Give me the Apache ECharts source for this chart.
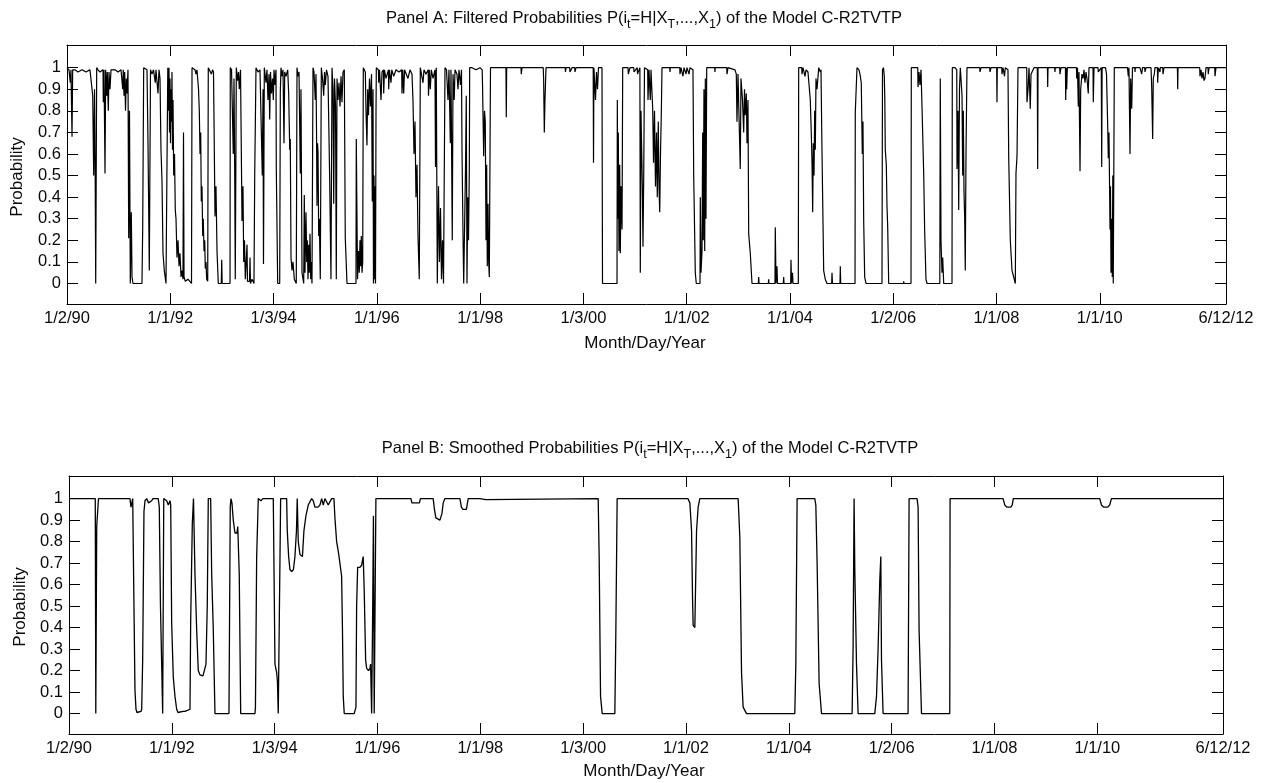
<!DOCTYPE html>
<html>
<head>
<meta charset="utf-8">
<script src="https://cdn.jsdelivr.net/npm/echarts@6/dist/echarts.min.js"></script>
<style>html,body{margin:0;padding:0;background:#fff}#main{width:1266px;height:783px}</style>
</head>
<body>
<div id="main"></div>
<script>
// ---- tick positions (decimal years) and their labels ----
const xTickYears = [1990, 1992, 1994, 1996, 1998, 2000, 2002, 2004, 2006, 2008, 2010, 2012.444];
const xTickLabels = ['1/2/90','1/1/92','1/3/94','1/1/96','1/1/98','1/3/00','1/1/02','1/1/04','1/2/06','1/1/08','1/1/10','6/12/12'];
const yTicks = [0, 0.1, 0.2, 0.3, 0.4, 0.5, 0.6, 0.7, 0.8, 0.9, 1];

// ---- Panel A: filtered probabilities [decimal year, probability] ----
const filtered = [
[1990.000,1],[1990.039,.99],[1990.064,.93],[1990.077,.99],[1990.097,.68],[1990.110,.99],[1990.155,.99],[1990.213,.98],[1990.290,.99],[1990.368,.98],[1990.445,.99],[1990.498,.87],[1990.517,.5],[1990.533,.9],[1990.546,.5],[1990.556,0],[1990.575,1],[1990.600,.99],[1990.639,.98],[1990.698,.99],[1990.703,.84],[1990.717,.99],[1990.736,.51],[1990.749,.99],[1990.769,.87],[1990.780,.98],[1990.800,.8],[1990.813,.98],[1990.833,.9],[1990.852,.99],[1990.930,.99],[1990.988,.98],
[1991.046,.99],[1991.079,.9],[1991.090,.99],[1991.104,.87],[1991.117,.98],[1991.133,.8],[1991.148,.95],[1991.162,.88],[1991.181,.99],[1991.195,.21],[1991.210,.8],[1991.226,0],[1991.245,.33],[1991.259,.03],[1991.278,0],[1991.452,0],[1991.466,.26],[1991.485,1],[1991.549,.99],[1991.569,.64],[1991.594,.06],[1991.617,.99],[1991.646,.97],[1991.675,.99],[1991.705,.99],[1991.710,.93],[1991.723,.99],[1991.757,.99],[1991.762,.88],[1991.782,.99],[1991.801,.95],[1991.820,.62],[1991.840,.47],[1991.859,.14],[1991.884,.06],[1991.917,0],[1991.942,0],[1991.952,1],[1991.966,.8],[1991.975,1],[1991.985,.7],[1991.995,.95],
[1992.004,.65],[1992.014,.9],[1992.024,.75],[1992.033,.98],[1992.043,.62],[1992.053,.85],[1992.066,.5],[1992.082,.6],[1992.097,.34],[1992.111,.3],[1992.130,.12],[1992.150,.2],[1992.169,.08],[1992.188,.14],[1992.208,.03],[1992.227,.06],[1992.246,.02],[1992.256,.7],[1992.266,.03],[1992.291,.01],[1992.343,.02],[1992.411,0],[1992.421,1],[1992.479,.99],[1992.498,.97],[1992.517,.99],[1992.547,.9],[1992.562,.8],[1992.576,.6],[1992.589,.7],[1992.601,.38],[1992.614,.45],[1992.628,.22],[1992.639,.3],[1992.653,.15],[1992.667,.2],[1992.678,.07],[1992.692,.1],[1992.705,.02],[1992.725,.01],[1992.736,1],[1992.798,.97],[1992.818,.99],[1992.837,.98],[1992.851,.66],[1992.866,.31],[1992.885,.45],[1992.905,.15],[1992.930,0],[1992.988,0],[1992.996,.11],
[1993.005,0],[1993.157,0],[1993.162,1],[1993.186,.99],[1993.220,.6],[1993.234,.95],[1993.248,.5],[1993.259,.02],[1993.279,1],[1993.302,.94],[1993.321,.98],[1993.337,.9],[1993.360,.99],[1993.389,.29],[1993.408,.45],[1993.422,.1],[1993.437,.2],[1993.453,.02],[1993.466,.08],[1993.486,.18],[1993.495,.01],[1993.534,.01],[1993.544,.12],[1993.553,0],[1993.583,.02],[1993.621,0],[1993.635,.5],[1993.660,1],[1993.699,.98],[1993.737,.99],[1993.770,.99],[1993.782,.5],[1993.796,.9],[1993.805,.09],[1993.821,1],[1993.854,.93],[1993.873,.99],[1993.892,.85],[1993.912,.97],[1993.925,.76],[1993.941,.98],[1993.960,.88],[1993.980,.95],[1993.995,.85],
[1994.009,.99],[1994.028,.92],[1994.047,.99],[1994.053,.53],[1994.080,0],[1994.119,0],[1994.131,.89],[1994.144,1],[1994.163,.96],[1994.183,.99],[1994.202,.65],[1994.216,.98],[1994.241,.96],[1994.274,.99],[1994.293,.88],[1994.313,.62],[1994.324,.67],[1994.338,.12],[1994.357,.06],[1994.376,.1],[1994.402,.02],[1994.440,0],[1994.454,1],[1994.473,.96],[1994.493,.98],[1994.518,.51],[1994.531,.9],[1994.551,.05],[1994.584,0],[1994.595,.41],[1994.609,.05],[1994.628,.33],[1994.642,.1],[1994.653,.2],[1994.667,.02],[1994.681,.18],[1994.692,.05],[1994.706,.23],[1994.719,.02],[1994.731,.1],[1994.744,0],[1994.764,1],[1994.783,.98],[1994.808,.85],[1994.822,.97],[1994.832,.7],[1994.841,.36],[1994.851,.65],[1994.861,.61],[1994.874,.22],[1994.886,.3],[1994.905,.02],[1994.925,1],[1994.948,.95],[1994.971,.87],[1994.987,.98],
[1995.002,.92],[1995.025,.99],[1995.054,.96],[1995.087,.48],[1995.112,.02],[1995.132,1],[1995.151,.9],[1995.165,.37],[1995.180,.95],[1995.200,.82],[1995.215,.02],[1995.229,.95],[1995.248,.85],[1995.267,.93],[1995.287,.82],[1995.306,.96],[1995.325,.84],[1995.345,.98],[1995.370,.99],[1995.389,.21],[1995.422,0],[1995.596,0],[1995.602,.67],[1995.626,.02],[1995.645,.15],[1995.660,.05],[1995.674,.2],[1995.687,.08],[1995.699,.22],[1995.713,.05],[1995.726,.1],[1995.738,1],[1995.777,.98],[1995.790,.8],[1995.809,.64],[1995.823,.9],[1995.838,.78],[1995.858,.95],[1995.877,.82],[1995.897,.97],[1995.912,.38],[1995.926,.9],[1995.935,0],[1995.945,.5],[1995.955,.02],[1995.964,.45],[1995.974,0],[1995.984,.8],[1995.990,1],
[1996.031,.99],[1996.036,.93],[1996.052,.99],[1996.076,.99],[1996.081,.85],[1996.100,.98],[1996.128,.99],[1996.133,.88],[1996.148,.99],[1996.177,.95],[1996.225,.99],[1996.230,.9],[1996.245,.99],[1996.274,.93],[1996.290,.99],[1996.327,.96],[1996.371,.99],[1996.429,.98],[1996.482,.99],[1996.487,.88],[1996.501,.99],[1996.515,.99],[1996.520,.88],[1996.536,.99],[1996.603,.95],[1996.642,.99],[1996.681,.97],[1996.700,.85],[1996.720,.6],[1996.739,.75],[1996.758,.4],[1996.778,.55],[1996.797,.22],[1996.822,.02],[1996.842,1],[1996.894,.93],[1996.913,.99],[1996.952,.97],
[1996.995,.99],[1997.000,.87],[1997.016,.99],[1997.035,.9],[1997.055,.99],[1997.088,.95],[1997.126,.99],[1997.136,.54],[1997.151,1],[1997.171,0],[1997.194,.45],[1997.213,.1],[1997.233,.35],[1997.252,.02],[1997.272,.2],[1997.291,0],[1997.310,0],[1997.320,1],[1997.349,.99],[1997.378,.85],[1997.397,.99],[1997.423,.65],[1997.436,.99],[1997.461,.2],[1997.475,.97],[1997.498,.85],[1997.514,.99],[1997.552,.97],[1997.572,.9],[1997.591,.99],[1997.620,.92],[1997.639,.99],[1997.649,.62],[1997.669,.22],[1997.682,0],[1997.707,0],[1997.717,.53],[1997.732,.87],[1997.746,0],[1997.760,.4],[1997.775,.2],[1997.791,.53],[1997.798,1],[1997.843,1],[1997.920,.99],[1997.998,1],
[1998.040,.99],[1998.046,.93],[1998.069,.59],[1998.085,.8],[1998.100,.75],[1998.114,.2],[1998.127,.55],[1998.139,.08],[1998.153,.37],[1998.166,.1],[1998.178,.03],[1998.201,1],[1998.288,1],[1998.385,1],[1998.500,1],[1998.507,.77],[1998.514,1],[1998.675,1],[1998.792,1],[1998.797,.97],[1998.811,1],
[1999.063,1],[1999.222,1],[1999.230,.95],[1999.243,.70],[1999.256,.85],[1999.276,1],[1999.450,1],[1999.648,1],[1999.653,.98],[1999.663,1],[1999.735,1],[1999.740,.98],[1999.779,1],[1999.832,1],[1999.837,.98],[1999.857,1],
[2000.031,1],[2000.190,1],[2000.196,.56],[2000.204,1],[2000.234,.85],[2000.254,.98],[2000.273,.9],[2000.292,1],[2000.360,1],[2000.370,0],[2000.651,0],[2000.657,.85],[2000.664,.3],[2000.676,.7],[2000.689,.15],[2000.703,.55],[2000.715,.14],[2000.728,.45],[2000.748,.25],[2000.761,1],[2000.825,1],[2000.865,1],[2000.870,.97],[2000.902,1],[2000.975,1],[2000.980,.98],
[2001.043,1],[2001.048,.97],[2001.094,1],[2001.102,.05],[2001.115,.8],[2001.141,.45],[2001.154,.17],[2001.168,.5],[2001.183,1],[2001.245,.99],[2001.251,.85],[2001.270,.99],[2001.290,.99],[2001.296,.85],[2001.309,.99],[2001.336,.99],[2001.342,.81],[2001.358,.56],[2001.377,.8],[2001.396,.45],[2001.416,.7],[2001.431,.4],[2001.450,.75],[2001.464,.45],[2001.478,.33],[2001.493,.6],[2001.509,.79],[2001.522,1],[2001.600,1],[2001.672,1],[2001.677,.98],[2001.682,1],[2001.774,1],[2001.866,1],[2001.871,.97],[2001.890,1],[2001.924,1],[2001.929,.96],[2001.948,1],[2001.982,1],[2001.987,.97],
[2002.006,1],[2002.040,1],[2002.045,.97],[2002.064,1],[2002.122,.99],[2002.136,.5],[2002.167,.05],[2002.186,0],[2002.258,0],[2002.264,.4],[2002.277,.05],[2002.297,.15],[2002.310,.7],[2002.322,.2],[2002.335,.9],[2002.349,.15],[2002.361,.95],[2002.374,.3],[2002.388,1],[2002.452,1],[2002.543,1],[2002.548,.98],[2002.553,1],[2002.645,1],[2002.776,1],[2002.781,.97],[2002.800,1],[2002.936,.99],[2002.961,.97],[2002.974,.75],[2002.994,.97],
[2003.038,.53],[2003.052,.95],[2003.081,.85],[2003.104,.7],[2003.120,.9],[2003.135,.78],[2003.155,.88],[2003.168,.65],[2003.187,.85],[2003.201,.23],[2003.232,.14],[2003.265,0],[2003.387,0],[2003.395,.03],[2003.401,0],[2003.581,0],[2003.588,.02],[2003.594,0],[2003.710,0],[2003.716,.26],[2003.730,0],[2003.749,.08],[2003.759,0],[2003.871,0],[2003.879,.03],[2003.885,0],
[2004.014,0],[2004.020,.11],[2004.030,0],[2004.049,.05],[2004.059,0],[2004.162,0],[2004.169,1],[2004.228,1],[2004.233,.97],[2004.253,1],[2004.286,1],[2004.291,.96],[2004.311,.99],[2004.349,.98],[2004.394,.85],[2004.413,.7],[2004.427,.56],[2004.440,.33],[2004.452,.65],[2004.466,.5],[2004.479,.8],[2004.491,.62],[2004.504,.95],[2004.524,.9],[2004.557,1],[2004.588,.98],[2004.601,.99],[2004.620,.62],[2004.653,.06],[2004.684,.02],[2004.717,0],[2004.808,0],[2004.814,.05],[2004.824,0],[2004.969,0],[2004.975,.08],[2004.983,0],
[2005.260,0],[2005.265,.79],[2005.298,1],[2005.337,.99],[2005.356,.97],[2005.381,.93],[2005.401,.6],[2005.414,.75],[2005.428,.29],[2005.447,.03],[2005.473,0],[2005.782,0],[2005.792,.99],[2005.811,1],[2005.827,.96],[2005.837,.85],[2005.846,.62],[2005.866,.55],[2005.879,.36],[2005.893,.26],[2005.912,0],
[2006.199,0],[2006.203,.01],[2006.208,0],[2006.344,0],[2006.350,1],[2006.421,1],[2006.475,1],[2006.480,.91],[2006.499,.98],[2006.518,.92],[2006.538,.99],[2006.557,.82],[2006.590,.51],[2006.609,.24],[2006.634,.02],[2006.654,0],[2006.902,0],[2006.911,.95],[2006.925,.2],[2006.944,.05],[2006.958,.12],[2006.977,0],
[2007.138,0],[2007.144,1],[2007.196,1],[2007.230,.99],[2007.235,.53],[2007.254,.8],[2007.268,.34],[2007.283,.9],[2007.299,1],[2007.332,.87],[2007.345,.5],[2007.357,.8],[2007.370,.43],[2007.384,.3],[2007.395,.06],[2007.409,.6],[2007.428,1],[2007.487,1],[2007.583,1],[2007.675,1],[2007.680,.98],[2007.700,1],[2007.869,1],[2007.874,.98],[2007.893,1],
[2008.003,1],[2008.009,.84],[2008.015,1],[2008.101,1],[2008.106,.97],[2008.126,1],[2008.150,1],[2008.155,.96],[2008.170,1],[2008.222,.99],[2008.236,.59],[2008.267,.2],[2008.300,.06],[2008.333,.03],[2008.364,0],[2008.377,.51],[2008.397,.59],[2008.416,1],[2008.493,1],[2008.585,1],[2008.590,.84],[2008.610,.9],[2008.629,1],[2008.649,1],[2008.654,.81],[2008.668,.97],[2008.726,1],[2008.790,1],[2008.797,.53],[2008.804,1],[2008.939,1],[2008.986,1],[2008.991,.91],
[2008.997,1],[2009.127,1],[2009.132,.98],[2009.137,1],[2009.224,1],[2009.229,.97],[2009.249,1],[2009.335,1],[2009.340,.85],[2009.351,1],[2009.359,.9],[2009.371,1],[2009.462,1],[2009.548,1],[2009.553,.95],[2009.568,1],[2009.584,.82],[2009.597,.98],[2009.617,.52],[2009.630,.9],[2009.655,.97],[2009.675,.95],[2009.694,.99],[2009.713,.93],[2009.733,.98],[2009.752,.95],[2009.777,.88],[2009.791,1],[2009.869,1],[2009.874,.84],[2009.888,1],[2009.966,1],[2009.971,.98],
[2010.029,1],[2010.037,.54],[2010.045,1],[2010.110,1],[2010.130,.97],[2010.153,.73],[2010.165,.58],[2010.178,.7],[2010.198,.25],[2010.207,.45],[2010.217,.05],[2010.230,.3],[2010.242,.03],[2010.252,.5],[2010.261,0],[2010.281,1],[2010.391,1],[2010.536,1],[2010.552,.96],[2010.565,1],[2010.580,1],[2010.585,.6],[2010.598,.95],[2010.618,.81],[2010.633,1],[2010.677,1],[2010.682,.98],[2010.687,1],[2010.778,1],[2010.806,1],[2010.811,.97],[2010.827,1],[2010.870,1],[2010.875,.98],[2010.895,1],[2010.992,1],
[2011.005,.91],[2011.024,.67],[2011.036,.95],[2011.055,.97],[2011.069,1],[2011.116,1],[2011.121,.93],[2011.133,1],[2011.161,1],[2011.166,.98],[2011.171,1],[2011.219,1],[2011.224,.97],[2011.243,1],[2011.359,1],[2011.503,1],[2011.509,.9],[2011.515,1],[2011.650,1],[2011.844,1],[2011.935,1],[2011.940,.96],[2011.960,.99],[2011.979,.95],[2011.999,.98],
[2012.018,.94],[2012.037,.95],[2012.057,1],[2012.096,1],[2012.101,.97],[2012.115,1],[2012.226,1],[2012.231,.96],[2012.250,1],[2012.444,1]
];

// ---- Panel B: smoothed probabilities [decimal year, probability] ----
const smoothed = [
[1990.000,1],[1990.511,1],[1990.521,0],[1990.539,.87],[1990.574,1],[1991.186,1],[1991.206,.96],[1991.239,1],[1991.264,1],[1991.283,.11],[1991.303,.02],[1991.322,.005],[1991.400,.01],[1991.414,.02],[1991.433,.25],[1991.458,.94],[1991.478,.99],[1991.511,1],[1991.546,.98],[1991.608,.99],[1991.633,1],[1991.736,1],[1991.756,.96],[1991.779,.5],[1991.822,0],[1991.843,1],[1991.900,.99],[1991.931,.97],[1991.964,.99],[1991.978,.97],[1991.997,.42],
[1992.028,.17],[1992.061,.08],[1992.094,.02],[1992.119,.005],[1992.217,.01],[1992.256,.01],[1992.294,.005],[1992.353,.02],[1992.366,.42],[1992.398,.88],[1992.421,1],[1992.450,.65],[1992.483,.39],[1992.514,.2],[1992.547,.18],[1992.606,.175],[1992.644,.18],[1992.664,.23],[1992.689,.5],[1992.709,1],[1992.755,1],[1992.775,.65],[1992.806,.39],[1992.839,0],
[1993.111,0],[1993.121,.37],[1993.136,.96],[1993.150,1],[1993.169,.98],[1993.195,.9],[1993.228,.84],[1993.267,.84],[1993.282,.87],[1993.311,.65],[1993.339,0],[1993.617,0],[1993.626,.03],[1993.650,.73],[1993.681,1],[1993.733,.99],[1993.772,1],[1993.973,1],
[1994.006,.23],[1994.039,.19],[1994.054,.15],[1994.070,0],[1994.093,0],[1994.116,1],[1994.233,1],[1994.245,.85],[1994.272,.73],[1994.297,.67],[1994.330,.66],[1994.365,.67],[1994.394,.73],[1994.424,.85],[1994.439,1],[1994.459,.8],[1994.492,.74],[1994.540,.73],[1994.569,.85],[1994.608,.92],[1994.653,.97],[1994.719,1],[1994.750,.99],[1994.783,.96],[1994.842,.96],[1994.881,.97],[1994.914,1],[1994.945,.97],[1994.978,1],
[1995.042,.97],[1995.075,.97],[1995.108,1],[1995.153,1],[1995.172,.91],[1995.205,.8],[1995.240,.75],[1995.269,.7],[1995.302,.64],[1995.318,.4],[1995.334,.08],[1995.353,0],[1995.547,0],[1995.581,.03],[1995.594,.5],[1995.614,.68],[1995.658,.68],[1995.691,.69],[1995.722,.73],[1995.742,.57],[1995.769,.25],[1995.789,.21],[1995.824,.2],[1995.853,.21],[1995.866,.23],[1995.886,0],[1995.905,.45],[1995.921,.92],[1995.936,0],[1995.950,0],[1995.969,1],
[1996.650,1],[1996.669,.98],[1996.815,.98],[1996.835,1],[1997.083,1],[1997.107,.95],[1997.136,.91],[1997.214,.9],[1997.253,.93],[1997.278,.98],[1997.311,1],[1997.603,1],[1997.632,.96],[1997.661,.95],[1997.729,.95],[1997.764,1],[1997.991,1],[1998.011,.995],[1998.108,.995],[1998.128,1],
[2000.292,1],[2000.311,.73],[2000.338,.08],[2000.370,0],[2000.616,0],[2000.636,.39],[2000.661,1],[2002.036,1],[2002.075,.98],[2002.108,.85],[2002.127,.54],[2002.139,.41],[2002.172,.40],[2002.205,.85],[2002.236,.96],[2002.269,1],
[2003.014,1],[2003.047,.82],[2003.080,.19],[2003.111,.03],[2003.177,0],[2004.116,0],[2004.136,.23],[2004.161,1],[2004.505,1],[2004.525,.97],[2004.550,.7],[2004.589,.14],[2004.636,0],
[2005.231,0],[2005.250,.31],[2005.269,1],[2005.283,.67],[2005.316,.23],[2005.347,0],[2005.672,0],[2005.705,.08],[2005.736,.3],[2005.769,.62],[2005.789,.73],[2005.802,.25],[2005.833,0],
[2006.319,0],[2006.339,1],[2006.494,1],[2006.514,.96],[2006.533,.39],[2006.580,0],[2007.130,0],[2007.136,1],[2008.167,1],[2008.200,.97],[2008.238,.96],[2008.316,.96],[2008.345,.97],[2008.365,1],
[2010.047,1],[2010.080,.97],[2010.125,.96],[2010.202,.96],[2010.241,.97],[2010.274,1],[2012.444,1]
];

const titleA = 'Panel A: Filtered Probabilities P(i{s|t}=H|X{s|T},...,X{s|1}) of the Model C-R2TVTP';
const titleB = 'Panel B: Smoothed Probabilities P(i{s|t}=H|X{s|T},...,X{s|1}) of the Model C-R2TVTP';

// ---- rendering ----
const FONT = '"Liberation Sans", Arial, Helvetica, sans-serif';
const INK = '#000';
const TXT = '#0a0a0a';
const X_MIN = 1990, X_MAX = 2012.444, Y_MIN = -0.095, Y_MAX = 1.105;
const TICK = 11;
const TICK_FS = 16.5, TITLE_FS = 16.5, NAME_FS = 17;

function xLabel(v) {
  for (let i = 0; i < xTickYears.length; i++) if (Math.abs(v - xTickYears[i]) < 1e-6) return xTickLabels[i];
  return '';
}
function yLabel(v) { return String(Math.round(v * 10) / 10); }

function xAxes(g) {
  const base = {
    gridIndex: g, type: 'value', min: X_MIN, max: X_MAX,
    splitLine: { show: false },
    axisLine: { show: true, onZero: false, lineStyle: { color: INK, width: 1 } },
    axisTick: { show: true, inside: true, length: TICK, customValues: xTickYears, lineStyle: { color: INK, width: 1 } }
  };
  return [
    Object.assign({}, base, { position: 'bottom',
      axisLabel: { show: true, customValues: xTickYears, formatter: xLabel, margin: 6, color: TXT, fontSize: TICK_FS, fontFamily: FONT } }),
    Object.assign({}, base, { position: 'top', axisLabel: { show: false } })
  ];
}
function yAxes(g) {
  const base = {
    gridIndex: g, type: 'value', min: Y_MIN, max: Y_MAX,
    splitLine: { show: false },
    axisLine: { show: true, onZero: false, lineStyle: { color: INK, width: 1 } },
    axisTick: { show: true, inside: true, length: TICK, customValues: yTicks, lineStyle: { color: INK, width: 1 } }
  };
  return [
    Object.assign({}, base, { position: 'left',
      axisLabel: { show: true, customValues: yTicks, formatter: yLabel, margin: 6, color: TXT, fontSize: TICK_FS, fontFamily: FONT } }),
    Object.assign({}, base, { position: 'right', axisLabel: { show: false } })
  ];
}
function titleText(text, x, y) {
  return { type: 'text', x: x, y: y, silent: true,
    style: { text: text, align: 'center', verticalAlign: 'middle', fontSize: TITLE_FS, fontFamily: FONT, fill: TXT, lineHeight: 34,
      rich: { s: { fontSize: 12.5, fontFamily: FONT, fill: TXT, padding: [14, 0, 0, 0] } } } };
}
function plainText(text, x, y, rot) {
  return { type: 'text', x: x, y: y, rotation: rot || 0, silent: true,
    style: { text: text, align: 'center', verticalAlign: 'middle', fontSize: NAME_FS, fontFamily: FONT, fill: TXT } };
}

const chart = echarts.init(document.getElementById('main'), null, { renderer: 'canvas' });
chart.setOption({
  animation: false,
  backgroundColor: '#fff',
  grid: [
    { left: 67, top: 45, width: 1159, height: 259 },
    { left: 69, top: 476, width: 1154, height: 258 }
  ],
  xAxis: xAxes(0).concat(xAxes(1)),
  yAxis: yAxes(0).concat(yAxes(1)),
  series: [
    { type: 'line', xAxisIndex: 0, yAxisIndex: 0, data: filtered, symbol: 'none', showSymbol: false,
      lineStyle: { color: INK, width: 1.2 }, silent: true, clip: true },
    { type: 'line', xAxisIndex: 2, yAxisIndex: 2, data: smoothed, symbol: 'none', showSymbol: false,
      lineStyle: { color: INK, width: 1.3 }, silent: true, clip: true }
  ],
  graphic: [
    titleText(titleA, 644, 18),
    titleText(titleB, 650, 448),
    plainText('Month/Day/Year', 645, 343),
    plainText('Month/Day/Year', 644, 771),
    plainText('Probability', 17.5, 177, Math.PI / 2),
    plainText('Probability', 20, 607, Math.PI / 2)
  ]
});
</script>
</body>
</html>
